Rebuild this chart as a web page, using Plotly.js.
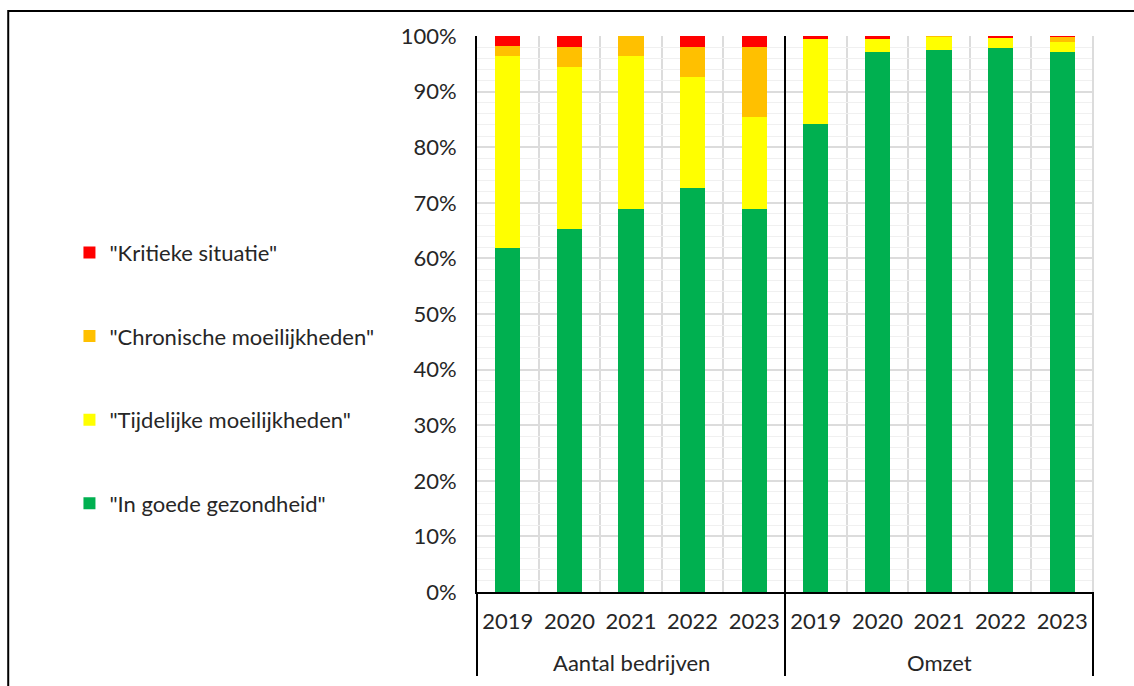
<!DOCTYPE html>
<html>
<head>
<meta charset="utf-8">
<script src="https://cdn.plot.ly/plotly-3.0.1.min.js"></script>
<style>
html,body{margin:0;padding:0;background:#fff;}
#chart{width:1134px;height:686px;}
</style>
</head>
<body>
<div id="chart"></div>
<script>
// Data
const groupNames = ["Aantal bedrijven","Omzet"];
const years = ["2019","2020","2021","2022","2023","2019","2020","2021","2022","2023"];
const seriesNames = ["\"In goede gezondheid\"","\"Tijdelijke moeilijkheden\"","\"Chronische moeilijkheden\"","\"Kritieke situatie\""];
const goed      = [61.9, 65.3, 68.9, 72.7, 68.9, 84.2, 97.1, 97.4, 97.8, 97.1];
const tijdelijk = [34.5, 29.2, 27.5, 20.0, 16.5, 15.2, 2.3, 2.5, 1.9, 1.8];
const chronisch = [1.8, 3.6, 3.6, 5.4, 12.7, 0.0, 0.0, 0.1, 0.0, 0.9];
const kritiek   = [1.9, 1.9, 0.0, 1.9, 1.9, 0.6, 0.6, 0.0, 0.3, 0.2];
const colors = ["#00B050","#FFFF00","#FFC000","#FF0000"];

const seriesValues = [goed, tijdelijk, chronisch, kritiek];
const xpos = years.map((_, i) => i);
const perGroup = years.length / groupNames.length;

const traces = seriesValues.map((vals, i) => ({
  type: "bar",
  x: xpos,
  y: vals,
  name: seriesNames[i],
  legendgroup: "g" + i,
  legendrank: 1000 - i,
  marker: {color: colors[i], line: {width: 0}},
  hoverinfo: "y+name"
}));

const FAM = "Lato, 'Open Sans', sans-serif";
const TXT = "#262626";

const groupAnnotations = groupNames.map((g, k) => ({
  text: g,
  xref: "x", yref: "paper",
  x: k * perGroup + (perGroup - 1) / 2,
  y: -0.126,
  xanchor: "center", yanchor: "middle",
  showarrow: false,
  font: {family: FAM, size: 22, color: TXT}
}));

const layout = {
  width: 1134, height: 686,
  margin: {l: 477, r: 41, t: 36, b: 94},
  paper_bgcolor: "#fff", plot_bgcolor: "#fff",
  barmode: "stack",
  bargap: 0.59,
  font: {family: FAM, size: 22, color: TXT},
  showlegend: true,
  legend: {
    x: -0.6616, xanchor: "left",
    y: 0.648, yanchor: "top",
    traceorder: "grouped",
    tracegroupgap: 52,
    font: {family: FAM, size: 22, color: TXT},
    itemwidth: 30,
    bgcolor: "rgba(0,0,0,0)"
  },
  xaxis: {
    range: [-0.5, years.length - 0.5],
    tickvals: xpos,
    ticktext: years,
    showgrid: false,
    minor: {tick0: 0.5, dtick: 1, showgrid: true, gridcolor: "#dcdcdc", gridwidth: 2, ticks: ""},
    showline: true, linecolor: "#000", linewidth: 2,
    ticks: "",
    ticklabelstandoff: 9,
    tickfont: {family: FAM, size: 22, color: TXT},
    zeroline: false
  },
  yaxis: {
    range: [0, 100],
    dtick: 10,
    ticksuffix: "%",
    showgrid: true, gridcolor: "#dcdcdc", gridwidth: 2,
    minor: {dtick: 2, showgrid: true, gridcolor: "#f0f0f0", gridwidth: 1},
    showline: true, linecolor: "#000", linewidth: 2,
    ticks: "",
    ticklabelstandoff: 14,
    tickfont: {family: FAM, size: 22, color: TXT},
    zeroline: false
  },
  annotations: groupAnnotations,
  shapes: [
    {type: "line", xref: "paper", yref: "paper", x0: 1, x1: 1, y0: 0, y1: 1, line: {color: "#dcdcdc", width: 2}},
    {type: "line", xref: "paper", yref: "paper", x0: 0.5, x1: 0.5, y0: -0.151, y1: 1, line: {color: "#000", width: 2}},
    {type: "line", xref: "paper", yref: "paper", x0: 0, x1: 0, y0: -0.151, y1: 0, line: {color: "#000", width: 2}},
    {type: "line", xref: "paper", yref: "paper", x0: 1, x1: 1, y0: -0.151, y1: 0, line: {color: "#000", width: 2}},
    {type: "rect", xref: "paper", yref: "paper", x0: -0.761, x1: 1.1, y0: -0.2, y1: 1.045, line: {color: "#000", width: 2}}
  ]
};

Plotly.newPlot("chart", traces, layout, {staticPlot: true});
</script>
</body>
</html>
